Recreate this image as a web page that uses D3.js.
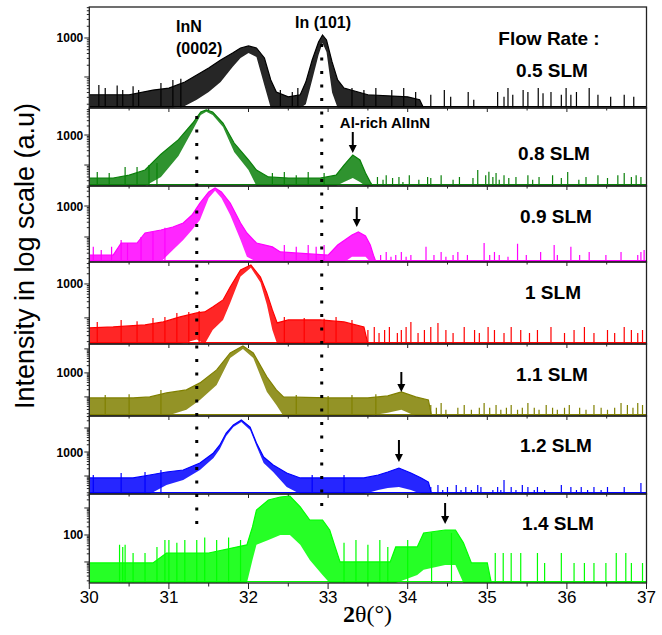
<!DOCTYPE html>
<html>
<head>
<meta charset="utf-8">
<script src="https://cdn.jsdelivr.net/npm/d3@7"></script>
<style>
body { margin: 0; background: #fff; }
text { font-family: Arial, "Liberation Sans", sans-serif; }
</style>
</head>
<body>
<script>
// ---- data (2theta in degrees, intensity in counts) ----
var xTicks = [30, 31, 32, 33, 34, 35, 36, 37];
var xMinor = [30.5, 31.5, 32.5, 33.5, 34.5, 35.5, 36.5];
var flowRates = ["0.5 SLM", "0.8 SLM", "0.9 SLM", "1 SLM", "1.1 SLM", "1.2 SLM", "1.4 SLM"];
var colors = ["#000000", "#0a800a", "#ff00ff", "#ff0000", "#808000", "#0000ff", "#00ff00"];
var ranges = [[16, 6240], [20, 7940], [15.6, 4420], [17, 4440], [16, 16000], [17.8, 31600], [1.66, 3300]];
var labelTicks = [1000, 1000, 1000, 1000, 1000, 1000, 100];
var arrowTheta = [null, 33.31, 33.36, null, 33.92, 33.89, 34.47];
var guideTheta = [31.35, 32.92];

// [2theta, upper envelope, lower envelope]
var band05 = [[30.0,35,16],[30.5,35,16],[30.8,46,16],[31.0,52,16],[31.2,74,18],[31.35,112,26],[31.5,170,41],
  [31.65,273,74],[31.8,412,180],[31.9,554,307],[32.0,624,412],[32.1,554,326],[32.2,307,60],[32.28,84,16],
  [32.35,41,16],[32.5,31,16],[32.65,35,16],[32.72,74,20],[32.8,273,84],[32.88,789,367],[32.93,1194,744],
  [32.98,889,438],[33.05,243,40],[33.12,84,16],[33.2,52,16],[33.5,35,16],[34.0,31,16],[34.15,26,16],
  [34.2,16,16],[37.0,16,16]];
var band08 = [[30.0,37,20],[30.3,37,20],[30.5,46,20],[30.7,68,20],[30.9,230,40],[31.12,700,200],[31.3,2510,1470],
  [31.4,5840,4640],[31.47,6810,5900],[31.55,5840,4640],[31.68,2510,1850],[31.82,541,271],[32.0,147,68],
  [32.1,68,20],[32.25,40,20],[32.5,37,20],[32.9,37,20],[33.1,46,20],[33.2,100,27],[33.31,215,37],
  [33.4,147,27],[33.47,54,20],[33.53,27,20],[33.56,20,20],[37.0,20,20]];
var band09 = [[30.0,26,16],[30.3,26,16],[30.4,64,16],[30.6,64,16],[30.7,135,16],[30.9,168,16],[31.05,210,38],
  [31.18,283,80],[31.29,513,168],[31.39,1250,354],[31.5,2830,1800],[31.58,3810,3100],[31.66,2830,1800],
  [31.77,1250,513],[31.9,283,80],[31.98,135,23],[32.1,64,16],[32.3,48,16],[32.4,33,16],[33.0,26,16],
  [33.12,55,16],[33.21,80,16],[33.3,116,23],[33.38,145,23],[33.47,108,23],[33.53,55,16],[33.57,26,16],
  [33.6,16,16],[37.0,16,16]];
var band10 = [[30.0,51,17],[30.3,54,17],[30.7,62,17],[30.93,76,17],[31.14,107,17],[31.35,140,23],[31.45,150,17],
  [31.55,211,44],[31.68,338,87],[31.77,816,276],[31.9,2580,1650],[32.03,3620,3000],[32.15,1610,1100],
  [32.23,544,250],[32.3,172,44],[32.36,71,17],[32.5,87,17],[32.9,87,17],[33.2,76,17],[33.45,54,17],
  [33.5,17,17],[37.0,17,17]];
var band11 = [[30.0,91,16],[30.55,91,16],[30.76,100,16],[30.97,147,16],[31.22,196,29],[31.39,383,75],
  [31.6,1330,316],[31.77,6810,4220],[31.93,13300,10000],[32.06,6810,4220],[32.23,681,162],[32.35,196,46],
  [32.44,100,16],[33.0,91,16],[33.5,91,16],[33.75,110,22],[33.92,162,29],[34.1,100,16],[34.26,75,16],
  [34.3,16,16],[37.0,16,16]];
var band12 = [[30.0,83,18],[30.55,83,18],[30.76,110,18],[30.97,147,42],[31.18,178,68],[31.39,348,178],
  [31.56,909,562],[31.64,1960,1330],[31.72,6190,4640],[31.81,13300,11000],[31.91,21500,17800],
  [32.02,11000,8250],[32.1,2370,1780],[32.19,619,348],[32.31,287,147],[32.48,133,35],[32.65,83,18],
  [33.0,83,18],[33.45,83,18],[33.63,110,26],[33.75,147,32],[33.89,215,35],[34.04,133,26],[34.17,83,18],
  [34.26,56,18],[34.3,18,18],[37.0,18,18]];
var band14 = [[30.0,9.2,1.67],[30.8,9.2,1.67],[30.97,21.5,1.67],[31.22,21.5,1.67],[31.5,21.5,1.67],
  [31.98,43,1.67],[32.05,198,11.9],[32.1,843,43],[32.25,1980,65],[32.4,2550,100],[32.52,2780,100],
  [32.65,1090,43],[32.77,359,11.9],[32.93,359,3.3],[33.02,153,1.67],[33.08,43,1.67],[33.15,10,1.67],
  [33.78,10,1.67],[33.85,36,1.67],[34.12,36,3.3],[34.2,119,5.1],[34.47,153,7.7],[34.6,153,7.7],
  [34.7,51,1.67],[34.8,9.2,1.67],[35.0,9.2,1.67],[35.05,1.67,1.67],[37.0,1.67,1.67]];

// single noise spikes [2theta, counts]
var spikes05 = [[30.12,62],[30.2,52],[30.35,60],[30.42,46],[30.55,58],[30.62,46],[30.9,70],[31.05,84],[31.15,90],
  [32.4,46],[32.55,41],[32.62,52],[33.3,52],[33.45,46],[33.6,52],[33.8,46],[33.95,52],[34.1,41],
  [34.29,35],[34.46,46],[34.54,31],[34.76,41],[34.83,26],[35.13,41],[35.21,31],[35.26,52],[35.32,35],
  [35.45,46],[35.51,41],[35.64,52],[35.7,38],[35.8,41],[35.93,35],[35.99,52],[36.05,35],[36.12,41],
  [36.28,52],[36.39,35],[36.55,31],[36.72,35],[36.84,31]];
var spikes08 = [[30.1,58],[30.25,54],[30.45,86],[30.6,86],[30.75,100],[30.85,117],[32.3,54],[32.45,58],
  [32.6,46],[32.75,58],[32.95,54],[33.62,40],[33.69,32],[33.73,46],[33.81,37],[33.89,40],[33.94,27],
  [34.02,46],[34.14,32],[34.25,40],[34.29,37],[34.42,46],[34.57,32],[34.65,40],[34.82,37],[34.88,68],
  [34.98,46],[35.02,60],[35.07,40],[35.11,54],[35.15,32],[35.21,46],[35.27,37],[35.36,40],[35.51,46],
  [35.57,32],[35.65,40],[35.82,46],[35.93,37],[36.01,58],[36.15,32],[36.24,40],[36.39,46],[36.51,37],
  [36.64,46],[36.72,54],[36.81,40],[36.87,46],[36.93,40]];
var spikes09 = [[30.05,48],[30.15,38],[30.28,48],[30.4,80],[30.48,64],[30.65,100],[30.8,145],[30.95,200],
  [32.45,55],[32.6,48],[32.75,55],[32.85,48],[32.95,55],[33.66,26],[33.73,33],[33.79,23],[33.85,26],
  [33.92,33],[33.98,23],[34.04,26],[34.23,48],[34.33,26],[34.42,33],[34.48,23],[34.57,26],[34.63,33],
  [34.75,26],[34.96,64],[35.03,26],[35.09,33],[35.15,26],[35.26,23],[35.38,60],[35.49,26],[35.67,33],
  [35.84,55],[35.88,26],[36.05,48],[36.16,26],[36.28,33],[36.49,26],[36.68,33],[36.89,26],[36.93,33],[36.97,38]];
var spikes10 = [[30.1,76],[30.4,87],[30.6,80],[30.8,100],[30.95,107],[31.1,140],[31.25,150],[31.38,160],
  [32.45,107],[32.7,100],[32.95,95],[33.1,107],[33.3,87],[33.5,44],[33.58,54],[33.64,36],[33.71,44],
  [33.77,54],[33.87,36],[33.92,44],[33.98,54],[34.04,76],[34.13,36],[34.21,44],[34.29,54],[34.38,71],
  [34.48,44],[34.57,36],[34.71,54],[34.84,44],[34.9,36],[35.01,54],[35.09,44],[35.21,36],[35.3,54],
  [35.42,44],[35.53,36],[35.63,44],[35.8,54],[35.97,36],[36.09,44],[36.22,54],[36.34,36],[36.51,44],
  [36.6,36],[36.72,54],[36.81,44],[36.89,36],[36.95,44]];
var spikes11 = [[30.2,121],[30.5,130],[30.9,196],[32.6,121],[33.0,110],[33.3,121],[33.6,130],[34.29,46],
  [34.36,35],[34.42,56],[34.48,29],[34.63,35],[34.71,46],[34.8,29],[34.9,35],[34.96,56],[35.03,35],
  [35.11,46],[35.17,29],[35.24,35],[35.3,46],[35.38,29],[35.44,35],[35.51,56],[35.59,35],[35.65,29],
  [35.74,46],[35.82,35],[35.88,29],[35.97,35],[36.03,46],[36.16,35],[36.24,29],[36.34,46],[36.43,35],
  [36.51,29],[36.6,35],[36.68,56],[36.76,46],[36.83,35],[36.89,56],[36.95,46]];
var spikes12 = [[30.05,110],[30.4,133],[30.7,147],[30.9,178],[32.8,110],[33.2,110],[34.29,35],[34.38,42],
  [34.44,26],[34.5,35],[34.61,42],[34.67,26],[34.73,35],[34.8,26],[34.88,42],[34.92,35],[35.07,26],
  [35.13,35],[35.17,26],[35.21,68],[35.3,35],[35.36,26],[35.44,42],[35.51,35],[35.59,26],[35.63,35],
  [35.72,26],[35.93,42],[36.05,35],[36.12,26],[36.18,35],[36.26,26],[36.34,35],[36.43,26],[36.51,35],
  [36.72,35],[36.93,51]];
var spikes14 = [[30.38,43],[30.42,36],[30.45,43],[30.55,21.5],[30.7,21.5],[30.85,36],[30.95,65],[31.0,65],
  [31.1,51],[31.2,65],[31.35,65],[31.45,80],[31.6,65],[31.75,80],[31.9,65],[33.2,51],[33.35,65],[33.5,43],
  [33.65,65],[33.75,36],[34.0,65],[34.3,119],[34.55,119],[35.1,21.5],[35.2,21.5],[35.3,21.5],[35.42,21.5],
  [35.63,21.5],[35.72,9.2],[35.93,21.5],[36.09,9.2],[36.22,9.2],[36.34,9.2],[36.49,9.2],[36.62,21.5],
  [36.74,21.5],[36.81,9.2],[36.95,9.2]];

var bands = [band05, band08, band09, band10, band11, band12, band14];
var spikes = [spikes05, spikes08, spikes09, spikes10, spikes11, spikes12, spikes14];

// ---- layout ----
var width = 662, height = 635;
var plotLeft = 89.3, plotRight = 646.5;
var panelEdges = [7, 108, 186, 262, 344, 416, 494, 583];
var labelY = [77, 160, 223, 299, 381, 452, 530];
var labelX = [552, 554, 556, 553, 552, 556, 558];
var arrowY = [null, [132, 153], [207, 227], null, [372, 392], [440, 462], [503, 524]];
var guideY = [[116, 528], [44, 514]];

var svg = d3.select("body").append("svg").attr("width", width).attr("height", height);

var x = d3.scaleLinear().domain([30, 37]).range([plotLeft, plotRight]);

var defs = svg.append("defs");

for (let i = 0; i < bands.length; i++)
{
    let top = panelEdges[i], bottom = panelEdges[i + 1];
    let y = d3.scaleLog().domain(ranges[i]).range([bottom, top]).clamp(true);

    defs.append("clipPath").attr("id", "clip" + i)
        .append("rect").attr("x", plotLeft).attr("y", top).attr("width", plotRight - plotLeft).attr("height", bottom - top);

    let g = svg.append("g").attr("clip-path", "url(#clip" + i + ")");

    let area = d3.area().x(d => x(d[0])).y0(d => y(d[2])).y1(d => y(d[1]));
    let line = d3.line().x(d => x(d[0])).y(d => y(d[1]));

    g.append("path").datum(bands[i]).attr("d", area).attr("fill", colors[i]).attr("fill-opacity", 0.85);
    g.append("path").datum(bands[i]).attr("d", line).attr("fill", "none").attr("stroke", colors[i]).attr("stroke-width", 1.2);

    // baseline where the counts sit at the floor
    g.append("line").attr("x1", plotLeft).attr("x2", plotRight).attr("y1", bottom - 1.3).attr("y2", bottom - 1.3)
        .attr("stroke", colors[i]).attr("stroke-width", 1.2);

    g.selectAll("line.spike").data(spikes[i]).enter().append("line")
        .attr("x1", d => x(d[0])).attr("x2", d => x(d[0]))
        .attr("y1", bottom).attr("y2", d => y(d[1]))
        .attr("stroke", colors[i]).attr("stroke-width", 1.2);

    // frame of the panel
    svg.append("rect").attr("x", plotLeft).attr("y", top).attr("width", plotRight - plotLeft).attr("height", bottom - top)
        .attr("fill", "none").attr("stroke", "#222").attr("stroke-width", 1.3);

    // log ticks on the left
    let ticks = y.ticks().filter(t => t >= ranges[i][0] && t <= ranges[i][1]);
    ticks.forEach(function(t)
    {
        let major = Math.abs(Math.log10(t) - Math.round(Math.log10(t))) < 1e-6;
        svg.append("line").attr("x1", plotLeft - (major ? 5 : 2.5)).attr("x2", plotLeft)
            .attr("y1", y(t)).attr("y2", y(t)).attr("stroke", "#222").attr("stroke-width", 1);
    });
    svg.append("text").attr("x", plotLeft - 6).attr("y", y(labelTicks[i]) + 4.5)
        .attr("text-anchor", "end").attr("font-size", 12).attr("font-weight", "bold").text(labelTicks[i]);

    // ticks under each panel
    let last = i == bands.length - 1;
    xTicks.forEach(t => svg.append("line").attr("x1", x(t)).attr("x2", x(t)).attr("y1", bottom).attr("y2", bottom + (last ? 6 : 4))
        .attr("stroke", "#222").attr("stroke-width", 1));
    xMinor.forEach(t => svg.append("line").attr("x1", x(t)).attr("x2", x(t)).attr("y1", bottom).attr("y2", bottom + (last ? 3.5 : 2.5))
        .attr("stroke", "#222").attr("stroke-width", 1));

    svg.append("text").attr("x", labelX[i]).attr("y", labelY[i]).attr("text-anchor", "middle")
        .attr("font-size", 19).attr("font-weight", "bold").text(flowRates[i]);

    if (arrowTheta[i] != null)
    {
        let ax = x(arrowTheta[i]), [a0, a1] = arrowY[i];
        svg.append("line").attr("x1", ax).attr("x2", ax).attr("y1", a0).attr("y2", a1 - 6).attr("stroke", "#000").attr("stroke-width", 2);
        svg.append("path").attr("d", `M${ax - 4},${a1 - 8}L${ax + 4},${a1 - 8}L${ax},${a1}Z`).attr("fill", "#000");
    }
}

// dotted guides at InN (0002) and In (101)
guideTheta.forEach(function(t, k)
{
    svg.append("line").attr("x1", x(t)).attr("x2", x(t)).attr("y1", guideY[k][0]).attr("y2", guideY[k][1])
        .attr("stroke", "#000").attr("stroke-width", 3).attr("stroke-dasharray", "3,10.5");
});

// x tick labels
xTicks.forEach(t => svg.append("text").attr("x", x(t)).attr("y", 603).attr("text-anchor", "middle")
    .attr("font-size", 17).text(t));

// peak annotations
svg.append("text").attr("x", 176).attr("y", 32).attr("font-size", 16).attr("font-weight", "bold").text("InN");
svg.append("text").attr("x", 176).attr("y", 54).attr("font-size", 16).attr("font-weight", "bold").text("(0002)");
svg.append("text").attr("x", 295).attr("y", 28).attr("font-size", 16).attr("font-weight", "bold").text("In (101)");
svg.append("text").attr("x", 549).attr("y", 45).attr("text-anchor", "middle").attr("font-size", 19).attr("font-weight", "bold").text("Flow Rate :");
svg.append("text").attr("x", 385).attr("y", 128).attr("text-anchor", "middle").attr("font-size", 15).attr("font-weight", "bold").text("Al-rich AlInN");

// axis titles
svg.append("text").attr("transform", "translate(34,256) rotate(-90)").attr("text-anchor", "middle")
    .attr("font-size", 27).text("Intensity in log scale (a.u)");
let xt = svg.append("text").attr("x", 343).attr("y", 622).attr("font-family", "'Liberation Serif', 'Times New Roman', serif").attr("font-size", 24);
xt.append("tspan").attr("font-weight", "bold").attr("font-family", "'Liberation Serif', serif").text("2");
xt.append("tspan").attr("font-family", "'Liberation Serif', serif").text("θ(°)");
</script>
</body>
</html>
